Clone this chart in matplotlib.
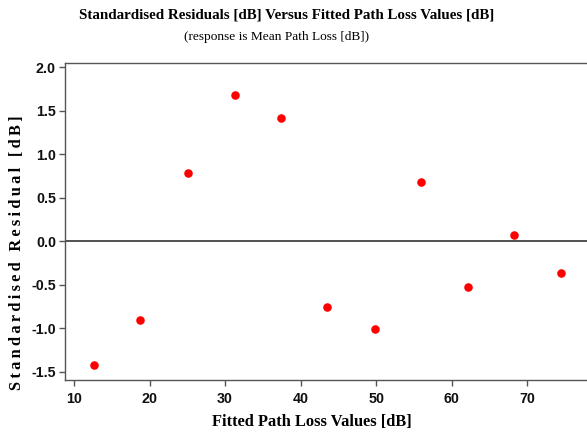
import matplotlib
matplotlib.use("Agg")
import matplotlib.pyplot as plt

# Valores
fitted = [12.7, 18.8, 25.1, 31.3, 37.4, 43.5, 49.8, 55.9, 62.1, 68.2, 74.5]
std_resid = [-1.42, -0.90, 0.78, 1.68, 1.415, -0.757, -1.01, 0.684, -0.52, 0.069, -0.367]
xticks = [10, 20, 30, 40, 50, 60, 70]
yticks = [-1.5, -1.0, -0.5, 0.0, 0.5, 1.0, 1.5, 2.0]

serif = ['Liberation Serif', 'DejaVu Serif']

fig = plt.figure(figsize=(5.87, 4.34), dpi=100)
ax = fig.add_axes([65 / 587, 54 / 434, 1 - 65 / 587, (380 - 63) / 434])

ax.scatter(fitted, std_resid, s=38, color='#ff0000', zorder=3, linewidths=0)
ax.axhline(0, color='#222222', linewidth=1.1, zorder=2)

ax.set_xlim(8.81, 77.9)
ax.set_ylim(-1.592, 2.046)
ax.set_xticks(xticks)
ax.set_yticks(yticks)
ax.set_yticklabels([f"{v:.1f}" for v in yticks])

for s in ['left', 'bottom', 'top']:
    ax.spines[s].set_color('#555555')
    ax.spines[s].set_linewidth(1.0)
ax.spines['right'].set_visible(False)
ax.tick_params(direction='out', length=4, width=1, color='#555555',
               labelsize=10.3, labelcolor='#111111')
ax.tick_params(axis='x', pad=4.5)
ax.tick_params(axis='y', pad=2.5)
for lbl in ax.get_xticklabels() + ax.get_yticklabels():
    lbl.set_family(['Liberation Sans', 'DejaVu Sans'])
    lbl.set_weight('bold')

# Titulos y etiquetas
fig.text(287 / 587, 1 - 15 / 434, 'Standardised Residuals [dB] Versus Fitted Path Loss Values [dB]',
         family=serif, weight='bold', fontsize=10.8, ha='center', va='center')
fig.text(277 / 587, 1 - 37 / 434, '(response is Mean Path Loss [dB])',
         family=serif, fontsize=9.6, ha='center', va='center')
fig.text(312 / 587, 1 - 422 / 434, 'Fitted Path Loss Values [dB]',
         family=serif, weight='bold', fontsize=11.8, ha='center', va='center')
# la etiqueta del eje y aparece con letras espaciadas
ylab = '\u2009'.join('Standardised Residual [dB]')
fig.text(17 / 587, 1 - 253 / 434, ylab,
         family=serif, weight='bold', fontsize=11.8, ha='center', va='center', rotation=90)

fig.savefig('out.png', dpi=100)
